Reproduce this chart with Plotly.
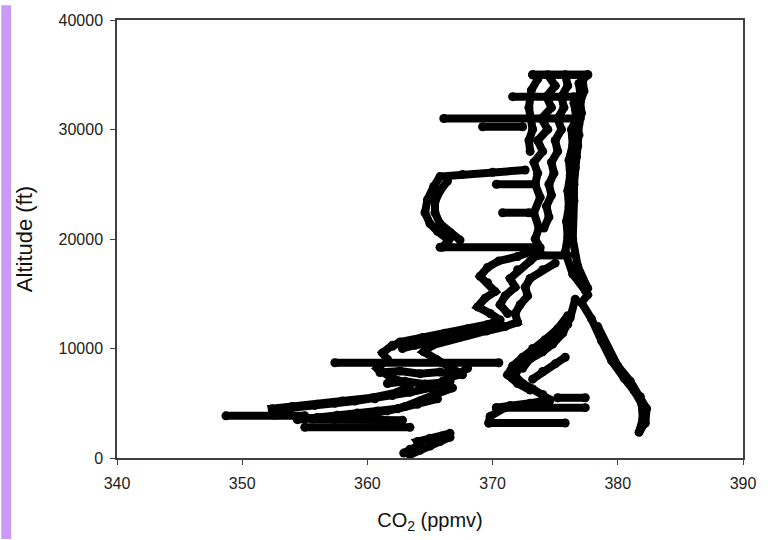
import plotly.graph_objects as go

# ---- axis ticks ----
x_ticks = [340, 350, 360, 370, 380, 390]
y_ticks = [0, 10000, 20000, 30000, 40000]
y_tick_labels = ["0", "10000", "20000", "30000", "40000"]

# ---- profile segments (CO2 ppmv, altitude ft) ----
a_co2 = [373.2, 377.6, 376.9, 377.0, 376.5, 376.7, 376.3, 376.4, 376.1, 376.2, 376.0, 376.1,
         375.9, 376.0, 375.8, 376.4, 377.4, 377.6, 377.1, 377.9, 378.7, 379.5, 380.5, 381.3,
         381.9, 382.0, 381.7]
a_alt = [35000, 35000, 34200, 33300, 32400, 31000, 30000, 28600, 27200, 25800, 24400, 23000,
         21600, 20200, 18800, 16800, 15300, 14900, 14200, 12700, 10700, 8900, 7300, 6150,
         4970, 3600, 2350]

a2_co2 = [377.2, 377.3, 377.0, 377.1, 376.9, 376.9, 376.8, 376.7, 376.6, 376.5, 376.5, 376.4,
          376.4, 376.8, 377.6]
a2_alt = [34500, 33500, 32500, 31500, 30500, 29500, 28500, 27500, 26500, 25000, 23500, 22000,
          20000, 17500, 15500]

a3_co2 = [378.4, 379.2, 380.0, 381.0, 381.8, 382.3, 382.2, 381.8]
a3_alt = [12000, 10000, 8400, 7000, 5600, 4500, 3200, 2600]

b0_co2 = [373.6, 373.1, 372.9, 373.2, 372.9, 373.0]
b0_alt = [34600, 33600, 32000, 30000, 29000, 28000]

b_co2 = [374.4, 375.0, 374.3, 374.7, 373.9, 374.4, 373.6, 374.0, 373.3, 373.6, 373.4, 373.8,
         373.3, 373.7, 373.4, 373.8]
b_alt = [35000, 34000, 33000, 32000, 31000, 30000, 29000, 28000, 27000, 26000, 25000, 23800,
         22400, 21000, 20000, 19200]

b2_co2 = [375.8, 376.0, 375.5, 375.7, 375.2, 375.5, 375.0, 375.2, 374.7, 374.9, 374.5, 374.7,
          374.3, 374.5, 374.1]
b2_alt = [35000, 34000, 33000, 32000, 31000, 30000, 29000, 28000, 27000, 26000, 25000, 24000,
          23000, 22000, 21000]

c_co2 = [372.6, 370.0, 367.6, 365.8, 365.3, 364.8, 364.6, 365.0, 365.6, 366.5, 366.0]
c_alt = [26300, 26100, 25900, 25700, 24800, 23600, 22400, 21400, 20700, 19900, 19250]

c2_co2 = [366.4, 365.8, 365.4, 365.4, 365.8, 366.6, 367.4]
c2_alt = [25300, 24400, 23400, 22400, 21400, 20600, 19900]

d_co2 = [373.4, 372.0, 370.5, 369.6, 369.0, 369.6, 370.2, 369.4, 368.8, 369.8, 370.6, 369.6,
         368.0, 366.2, 364.4, 362.6, 362.0]
d_alt = [19000, 18400, 18000, 17400, 16600, 16000, 15200, 14600, 13800, 13200, 12600, 12200,
         11800, 11400, 11000, 10600, 10200]

e_co2 = [375.0, 374.0, 373.0, 372.6, 372.8, 372.2, 371.8, 372.0, 371.0, 369.5, 368.0, 366.5,
         365.2, 364.5, 365.5, 366.8, 367.6]
e_alt = [17800, 17200, 16400, 15600, 14800, 14000, 13200, 12400, 12000, 11600, 11200, 10800,
         10300, 9700, 9000, 8200, 7600]

n_co2 = [373.8, 373.0, 372.0, 371.4, 371.8, 371.0, 370.6, 371.2]
n_alt = [18800, 18000, 17200, 16400, 15600, 14800, 14000, 13200]

u_co2 = [370.2, 368.6, 367.0, 365.4, 363.8, 362.8]
u_alt = [12000, 11500, 11000, 10600, 10300, 10000]

f_co2 = [362.0, 361.2, 361.6, 360.8, 361.8, 363.4, 362.4, 360.4, 358.0, 356.0, 354.0, 352.4, 352.6]
f_alt = [10300, 9600, 9000, 8200, 7400, 6700, 6000, 5500, 5200, 4900, 4700, 4500, 3900]

g_co2 = [368.0, 367.2, 366.0, 366.8, 365.4, 364.2, 363.0, 361.6, 360.0, 358.4, 356.6, 355.0]
g_alt = [8200, 7600, 7000, 6400, 5800, 5200, 4700, 4300, 4000, 3800, 3700, 3600]

s_co2 = [361.0, 362.6, 364.2, 365.8, 367.0]
s_alt = [7800, 7950, 7700, 7850, 7600]

t_co2 = [361.6, 363.0, 364.6, 366.2]
t_alt = [6800, 7000, 6750, 6900]

p_co2 = [366.6, 365.0, 363.4, 362.0, 360.6, 359.0, 357.4, 355.8, 354.0, 352.4]
p_alt = [7000, 6400, 6000, 5700, 5400, 5200, 5000, 4800, 4600, 4400]

q_co2 = [365.6, 364.0, 362.4, 360.8, 359.2, 357.6, 356.0, 354.4]
q_alt = [5400, 4900, 4500, 4300, 4100, 3900, 3700, 3500]

r_co2 = [355.6, 357.4, 359.2, 361.0, 362.8]
r_alt = [3550, 3500, 3600, 3500, 3450]

i_co2 = [362.9, 363.4, 364.2, 364.0, 365.0, 366.0, 366.6]
i_alt = [450, 800, 1200, 1500, 1800, 2000, 2250]

i2_co2 = [363.4, 364.2, 365.0, 365.8, 366.6]
i2_alt = [300, 700, 1100, 1500, 1900]

j_co2 = [376.6, 376.2, 375.6, 374.8, 374.0, 373.0, 372.2, 371.8, 372.4, 373.2, 374.0, 374.6,
         373.0, 371.4, 370.3]
j_alt = [14500, 12800, 11400, 10400, 9700, 9100, 8500, 7500, 6800, 6300, 5800, 5300,
         5000, 4800, 4600]

j2_co2 = [376.0, 375.2, 374.2, 373.2, 372.4, 371.6, 371.2, 372.0, 373.0]
j2_alt = [13000, 11800, 10800, 10000, 9200, 8400, 7600, 6800, 6200]

k_co2 = [371.0, 369.8, 369.7]
k_alt = [4600, 3800, 3200]

l_co2 = [376.0, 375.0, 374.0, 373.4, 373.0, 372.4]
l_alt = [12200, 11300, 10500, 9800, 9100, 8200]

m_co2 = [375.8, 375.0, 374.0, 373.2]
m_alt = [9200, 8600, 7900, 7200]

# ---- level flight legs ----
leg_alt = [35000, 33000, 31000, 30250, 25000, 22400, 19250, 18500, 8700, 5500, 4600, 3200,
           3850, 2800]
leg_co2_from = [373.2, 371.6, 366.1, 369.2, 370.3, 370.8, 365.8, 373.6, 357.4, 375.2, 370.3,
                369.7, 348.7, 355.0]
leg_co2_to = [377.6, 376.5, 377.0, 372.4, 373.4, 372.9, 373.6, 376.0, 370.5, 377.4, 377.4,
              375.8, 355.0, 363.4]

segments = [(a_co2, a_alt), (a2_co2, a2_alt), (a3_co2, a3_alt), (b0_co2, b0_alt),
            (b_co2, b_alt), (b2_co2, b2_alt), (c_co2, c_alt), (c2_co2, c2_alt),
            (d_co2, d_alt), (e_co2, e_alt), (n_co2, n_alt), (u_co2, u_alt),
            (f_co2, f_alt), (g_co2, g_alt), (s_co2, s_alt), (t_co2, t_alt),
            (p_co2, p_alt), (q_co2, q_alt), (r_co2, r_alt),
            (i_co2, i_alt), (i2_co2, i2_alt), (j_co2, j_alt), (j2_co2, j2_alt),
            (k_co2, k_alt), (l_co2, l_alt), (m_co2, m_alt)]

leg_x, leg_y = [], []
for alt, x0, x1 in zip(leg_alt, leg_co2_from, leg_co2_to):
    leg_x += [x0, x1, None]
    leg_y += [alt, alt, None]
segments.append((leg_x, leg_y))

fig = go.Figure()
for xs, ys in segments:
    fig.add_trace(go.Scatter(
        x=xs, y=ys, mode="lines+markers",
        line=dict(color="black", width=8),
        marker=dict(color="black", size=9),
        showlegend=False, hoverinfo="skip"))

W, H = 768, 540
L, R, T, B = 117, 18, 15, 82
pw, ph = W - L - R, H - T - B

fig.add_shape(type="rect", xref="paper", yref="paper",
              x0=-L / pw, x1=(10 - L) / pw, y0=-B / ph, y1=1 + T / ph,
              fillcolor="#C99AF7", line=dict(width=0))

tick_font = dict(family="Liberation Sans, Arial", size=16, color="#222")
axis_common = dict(showline=True, linecolor="#404040", linewidth=1.5, mirror=True,
                   ticks="outside", ticklen=5, tickcolor="#404040", tickwidth=1.2,
                   showgrid=False, zeroline=False, tickfont=tick_font)

fig.update_layout(
    width=W, height=H,
    margin=dict(l=L, r=R, t=T, b=B, pad=0),
    plot_bgcolor="white", paper_bgcolor="white",
    xaxis=dict(range=[340, 390], tickvals=x_ticks, ticklabelstandoff=5,
               title=dict(text="CO<sub>2</sub> (ppmv)", standoff=22,
                          font=dict(family="Liberation Sans, Arial", size=20, color="#111")),
               **axis_common),
    yaxis=dict(range=[0, 40000], tickvals=y_ticks, ticktext=y_tick_labels,
               ticklabelstandoff=4,
               title=dict(text="Altitude (ft)", standoff=20,
                          font=dict(family="Liberation Sans, Arial", size=22, color="#111")),
               **axis_common),
)

fig.write_html("out.html")
